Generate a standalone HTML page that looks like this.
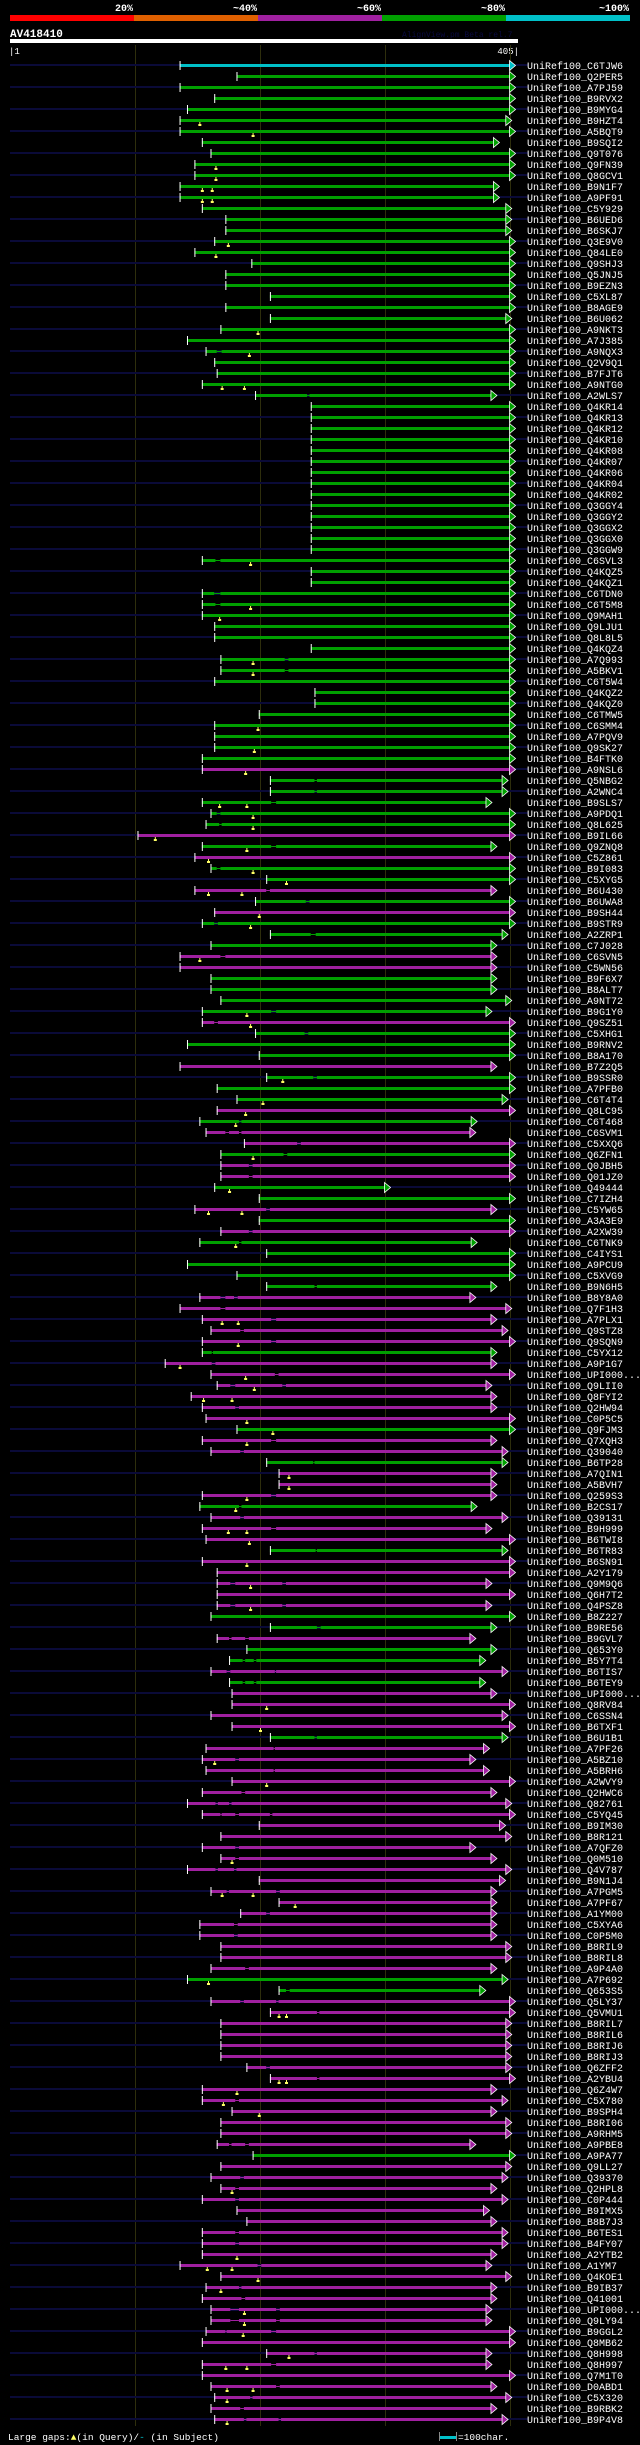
<!DOCTYPE html>
<html><head><meta charset="utf-8"><style>
html,body{margin:0;padding:0;background:#000;}
svg{display:block;}
text{font-family:"Liberation Mono",monospace;}
</style></head><body>
<svg id="chart" xmlns="http://www.w3.org/2000/svg" width="640" height="2445" viewBox="0 0 640 2445">
<rect x="0" y="0" width="640" height="2445" fill="#000"/>
<g>
<rect x="10" y="15" width="124" height="6" fill="#ff0000"/>
<rect x="134" y="15" width="124" height="6" fill="#e06000"/>
<rect x="258" y="15" width="124" height="6" fill="#a020a0"/>
<rect x="382" y="15" width="124" height="6" fill="#00a000"/>
<rect x="506" y="15" width="124" height="6" fill="#00c0c8"/>
<g fill="#fff" font-weight="bold" font-size="10" text-anchor="end">
<text x="133" y="11">20%</text>
<text x="257" y="11">~40%</text>
<text x="381" y="11">~60%</text>
<text x="505" y="11">~80%</text>
<text x="629" y="11">~100%</text>
</g></g>
<text x="10" y="37" fill="#fff" font-weight="bold" font-size="11">AV418410</text>
<text x="402" y="37" fill="#0a0a40" font-size="8">AlignView.pm Beta rel.7</text>
<rect x="10" y="39" width="508" height="4" fill="#fff"/>
<text x="9" y="54" fill="#fff" font-size="9">|1</text>
<text x="519" y="54" fill="#fff" font-size="9" text-anchor="end">405|</text>
<g id="grid"></g>
<g id="rows"></g>
<g>
<text x="8" y="2440" fill="#fff" font-size="9.5">Large gaps:<tspan fill="#ffff66">▲</tspan>(in Query)/<tspan fill="#00c0c8">-</tspan> (in Subject)</text>
<rect x="439" y="2436" width="17" height="3" fill="#00c0c8"/>
<rect x="439" y="2432" width="1" height="9" fill="#888"/>
<rect x="456" y="2432" width="1" height="9" fill="#888"/>
<text x="458" y="2440" fill="#fff" font-size="9.5">=100char.</text>
</g>
</svg>
<script>
const names=["C6TJW6","Q2PER5","A7PJ59","B9RVX2","B9MYG4","B9HZT4","A5BQT9","B9SQI2","Q9T076","Q9FN39",
"Q8GCV1","B9N1F7","A9PF91","C5Y929","B6UED6","B6SKJ7","Q3E9V0","Q84LE0","Q9SHJ3","Q5JNJ5",
"B9EZN3","C5XL87","B8AGE9","B6U062","A9NKT3","A7J385","A9NQX3","Q2V9Q1","B7FJT6","A9NTG0",
"A2WLS7","Q4KR14","Q4KR13","Q4KR12","Q4KR10","Q4KR08","Q4KR07","Q4KR06","Q4KR04","Q4KR02",
"Q3GGY4","Q3GGY2","Q3GGX2","Q3GGX0","Q3GGW9","C6SVL3","Q4KQZ5","Q4KQZ1","C6TDN0","C6T5M8",
"Q9MAH1","Q9LJU1","Q8L8L5","Q4KQZ4","A7Q993","A5BKV1","C6T5W4","Q4KQZ2","Q4KQZ0","C6TMW5",
"C6SMM4","A7PQV9","Q9SK27","B4FTK0","A9NSL6","Q5NBG2","A2WNC4","B9SLS7","A9PDQ1","Q8L625",
"B9IL66","Q9ZNQ8","C5Z861","B9I083","C5XYG5","B6U430","B6UWA8","B9SH44","B9STR9","A2ZRP1",
"C7J028","C6SVN5","C5WN56","B9F6X7","B8ALT7","A9NT72","B9G1Y0","Q9SZ51","C5XHG1","B9RNV2",
"B8A170","B7Z2Q5","B9SSR0","A7PFB0","C6T4T4","Q8LC95","C6T468","C6SVM1","C5XXQ6","Q6ZFN1",
"Q0JBH5","Q01JZ0","Q49444","C7IZH4","C5YW65","A3A3E9","A2XW39","C6TNK9","C4IYS1","A9PCU9",
"C5XVG9","B9N6H5","B8Y8A0","Q7F1H3","A7PLX1","Q9STZ8","Q9SQN9","C5YX12","A9P1G7","UPI000...",
"Q9LII0","Q8FYI2","Q2HW94","C0P5C5","Q9FJM3","Q7XQH3","Q39040","B6TP28","A7QIN1","A5BVH7",
"Q259S3","B2CS17","Q39131","B9H999","B6TWI8","B6TR83","B6SN91","A2Y179","Q9M9Q6","Q6H7T2",
"Q4PSZ8","B8Z227","B9RE56","B9GVL7","Q653Y0","B5Y7T4","B6TIS7","B6TEY9","UPI000...","Q8RV84",
"C6SSN4","B6TXF1","B6U1B1","A7PF26","A5BZ10","A5BRH6","A2WVY9","Q2HWC6","Q82761","C5YQ45",
"B9IM30","B8R121","A7QFZ0","Q0M510","Q4V787","B9N1J4","A7PGM5","A7PF67","A1YM00","C5XYA6",
"C0P5M0","B8RIL9","B8RIL8","A9P4A0","A7P692","Q653S5","Q5LY37","Q5VMU1","B8RIL7","B8RIL6",
"B8RIJ6","B8RIJ3","Q6ZFF2","A2YBU4","Q6Z4W7","C5X780","B9SPH4","B8RI06","A9RHM5","A9PBE8",
"A9PA77","Q9LL27","Q39370","Q2HPL8","C0P444","B9IMX5","B8B7J3","B6TES1","B4FY07","A2YTB2",
"A1YM7","Q4KOE1","B9IB37","Q41001","UPI000...","Q9LY94","B9GGL2","Q8MB62","Q8H998","Q8H997",
"Q7M1T0","D0ABD1","C5X320","B9RBK2","B9P4V8"];
const starts=[138,184,138,166,144,138,138,156,163,150,
150,138,138,156,175,175,166,150,196,175,
175,211,175,211,171,144,159,166,168,156,
199,244,244,244,244,244,244,244,244,244,
244,244,244,244,244,156,244,244,156,156,
156,166,166,244,171,171,166,247,247,202,
166,166,166,156,156,211,211,156,163,159,
104,156,150,163,208,150,199,166,156,211,
163,138,138,163,163,171,156,156,199,144,
202,138,208,168,184,168,154,159,190,171,
171,171,166,202,150,202,171,154,208,144,
184,208,154,138,156,163,156,156,126,163,
168,147,156,159,184,156,163,208,218,218,
156,154,163,156,159,211,156,168,168,168,
168,163,211,168,192,178,163,178,180,180,
163,180,211,159,156,159,180,156,144,156,
202,171,156,171,144,202,163,218,187,154,
154,171,171,163,144,218,163,211,171,171,
171,171,192,211,156,156,180,171,171,168,
197,171,163,171,156,184,192,156,156,156,
138,171,159,156,163,163,159,156,208,156,
156,163,166,163,166];
const ends=[405,405,405,405,405,402,405,392,405,405,
405,392,392,402,402,402,405,405,405,405,
405,405,405,402,405,405,405,405,405,405,
390,405,405,405,405,405,405,405,405,405,
405,405,405,405,405,405,405,405,405,405,
405,405,405,405,405,405,405,405,405,405,
405,405,405,405,405,399,399,386,405,405,
405,390,405,405,405,390,405,405,405,399,
390,390,390,390,390,402,386,405,405,405,
405,390,405,405,399,405,374,373,405,405,
405,405,304,405,390,405,405,374,405,405,
405,390,373,402,390,399,405,390,390,405,
386,390,390,405,405,390,399,399,390,390,
390,374,399,386,405,399,405,405,386,405,
386,405,390,373,390,381,399,381,390,405,
399,405,399,384,373,384,405,390,402,405,
397,402,373,390,402,397,390,390,390,390,
390,402,402,390,399,381,405,405,402,402,
402,402,402,405,390,399,390,402,402,373,
405,402,399,390,399,384,390,399,399,390,
386,402,390,390,386,386,405,405,386,386,
405,390,402,390,399];
const colors="cggggggggg"+"gggggggggg"+"gggggggggg"+"gggggggggg"+"gggggggggg"+"gggggggggg"+"ggggmggggg"+"mgmggmgmgg"+"gmmggggmgg"+"gmgggmgmmg"+"mmggmgmggg"+"ggmmmmmgmm"+"mmmmgmmgmm"+"mgmmmgmmmm"+"mggmggmgmm"+"mmgmmmmmmm"+"mmmmmmmmmm"+"mmmmggmmmm"+"mmmmmmmmmm"+"gmmmmmmmmm"+"mmmmmmmmmmmmmmm";
const gaps=[[27,168,172],[31,241,243],[46,167,171],[49,166,171],[50,167,171],[55,223,226],[56,223,226],[66,247,249],[67,247,249],[68,212,216],[69,168,171],[70,170,172],[72,212,216],[74,168,171],[76,208,211],[77,240,243],[79,166,169],[80,244,248],[82,171,175],[87,212,216],[88,166,169],[89,239,242],[93,246,249],[97,186,188],[98,175,178],[98,186,188],[99,233,236],[100,222,225],[101,194,197],[102,194,197],[105,208,211],[107,194,197],[108,186,188],[112,247,249],[113,171,175],[113,182,185],[114,171,175],[115,212,216],[116,187,190],[117,212,216],[118,164,165],[119,164,167],[120,215,218],[121,179,183],[121,221,224],[123,183,186],[126,212,216],[127,187,190],[128,246,247],[131,212,216],[132,186,188],[133,187,190],[134,212,216],[136,248,249],[139,179,183],[139,221,224],[141,179,183],[141,221,224],[143,249,252],[144,178,180],[144,191,194],[146,189,191],[146,198,200],[147,176,179],[147,215,216],[148,189,191],[148,198,200],[153,247,249],[154,214,215],[155,183,186],[156,214,215],[158,188,191],[159,167,169],[159,178,180],[160,171,172],[160,183,186],[160,211,213],[163,183,186],[164,183,186],[165,167,169],[165,182,184],[167,176,178],[167,216,219],[169,208,211],[170,182,185],[171,182,185],[174,191,194],[176,224,227],[177,187,190],[177,216,218],[178,249,251],[183,208,211],[184,249,251],[186,183,186],[190,178,180],[190,191,194],[193,187,190],[194,183,186],[195,183,186],[198,183,186],[199,183,186],[201,201,204],[203,186,188],[204,188,191],[205,179,186],[205,216,219],[206,179,186],[206,216,219],[207,175,176],[207,212,216],[209,247,249],[210,212,216],[212,216,219],[213,195,197],[214,187,190],[215,190,192],[215,218,220]];
const marks=[[6,154],[7,197],[10,167],[11,167],[12,156],[12,164],[13,156],[13,164],[17,177],[18,167],[25,201],[27,194],[30,172],[30,190],[46,195],[50,195],[51,170],[55,197],[56,197],[61,201],[63,198],[65,191],[68,170],[68,192],[69,197],[70,197],[71,118],[72,192],[73,161],[74,197],[75,224],[76,161],[76,188],[78,202],[79,195],[82,154],[87,192],[88,195],[93,221],[95,205],[96,191],[97,183],[100,197],[103,178],[105,161],[105,188],[108,183],[115,172],[115,185],[117,185],[119,138],[120,191],[121,198],[122,157],[122,180],[124,192],[125,213],[126,192],[129,226],[130,226],[131,192],[132,183],[134,177],[134,192],[135,194],[137,192],[139,195],[141,195],[150,208],[152,203],[155,166],[157,208],[164,180],[167,172],[167,197],[168,231],[175,161],[178,218],[178,224],[184,218],[184,224],[185,184],[186,173],[187,202],[194,180],[200,184],[201,160],[201,180],[202,201],[203,171],[205,190],[206,190],[207,189],[209,226],[210,175],[210,192],[212,176],[212,197],[213,176],[215,176]];

const NS="http://www.w3.org/2000/svg";
const COL={c:"#00c0c8",g:"#00a000",m:"#a020a0"};
function xs(r){return 10+(r-1)*500/404;}
function ys(i){return 65+11*i;}
function mk(tag,attrs,parent){const e=document.createElementNS(NS,tag);for(const k in attrs)e.setAttribute(k,attrs[k]);parent.appendChild(e);return e;}
const grid=document.getElementById('grid');
[135,260,385,510].forEach(function(x){
  const l=mk('rect',{x:x,y:45,width:1,height:2381,fill:"#2e2e0c"},grid);
  
  
});
const rows=document.getElementById('rows');
for(let i=0;i<names.length;i++){
  const y=ys(i);
  const g=mk('g',{},rows);
  
  
  if(i%2===0){
    const s=mk('rect',{x:10,y:y-1,width:518,height:2,fill:"#0a0a38"},g);
    
    
  }
  const c=COL[colors[i]];
  const x0=xs(starts[i]),x1=xs(ends[i]);
  const bar=mk('rect',{x:x0,y:y-1,width:x1-x0,height:3,fill:c},g);
  
  
  const tick=mk('rect',{x:x0,y:y-4,width:1,height:9,fill:"#fff"},g);
  
  
  const ar=mk('polygon',{points:(x1-0.5)+","+(y-4.5)+" "+(x1+5.5)+","+(y+0.5)+" "+(x1-0.5)+","+(y+5.5),fill:c,stroke:"#fff","stroke-width":"0.8"},g);
  
  
  const t=mk('text',{x:527,y:y+4,fill:"#fff","font-size":"10"},g);
  t.textContent="UniRef100_"+names[i];
  
  
}
gaps.forEach(function(gp){
  const i=gp[0]-1,y=ys(i),a=xs(gp[1]),b=xs(gp[2]);
  mk('rect',{x:a,y:y-1,width:b-a,height:3,fill:(i%2===0?"#0a0a38":"#000")},rows);
  const l=mk('rect',{x:a,y:y,width:b-a,height:1,fill:COL[colors[i]]},rows);
  
  
});
marks.forEach(function(m){
  const i=m[0]-1,y=ys(i),x=xs(m[1]);
  const g=mk('g',{fill:"#ffff66"},rows);
  
  
  mk('rect',{x:x-1,y:y+4,width:3,height:2},g);
  mk('rect',{x:x,y:y+2,width:1,height:2},g);
});
</script>
</body></html>
